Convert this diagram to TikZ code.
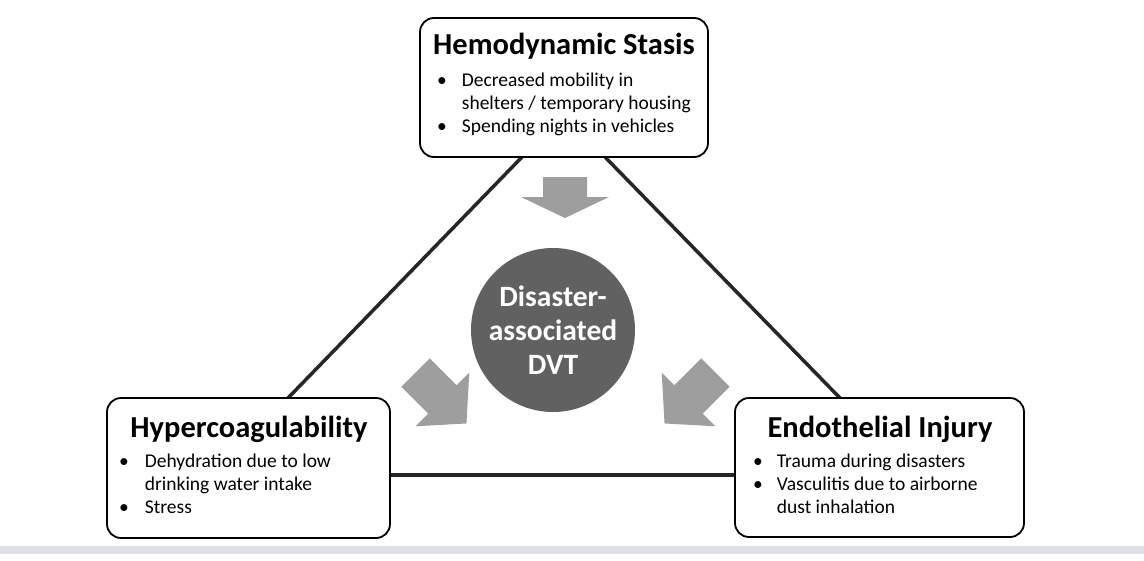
\documentclass[tikz,border=0pt]{standalone}
\usepackage{fontspec}
\setmainfont{Carlito}
\begin{document}
\begin{tikzpicture}[x=1pt,y=-1pt,
 box/.style={draw,line width=1.8pt,rounded corners=14pt,fill=white},
 ttl/.style={font=\bfseries\fontsize{30.5}{32}\selectfont},
 bl/.style={anchor=north west,inner sep=0,font=\fontsize{19.5}{23}\selectfont,align=left},
 edge/.style={line width=3.5pt,black!85}]
\useasboundingbox (0,0) rectangle (1144,560);
\fill[white] (0,0) rectangle (1144,560);
\fill[blue!20!black!12] (0,546) rectangle (1144,554);
\coordinate (t1) at (522,157); \coordinate (t2) at (605,157);
\coordinate (l1) at (288,398); \coordinate (r1) at (840,398);
\coordinate (b1) at (390,475); \coordinate (b2) at (735,475);
\draw[edge] (t1) -- (l1); \draw[edge] (t2) -- (r1); \draw[edge] (b1) -- (b2);
\draw[box] (420,18) rectangle (708,157);
\draw[box] (107,398) rectangle (390,538);
\draw[box] (735,398) rectangle (1024,537);
\node[ttl] (th) at (564,46) {Hemodynamic Stasis};
\node[bl] (tb) at (437,70) {\begin{tabular}{@{}l@{\hspace{15pt}}l@{}}\textbullet & Decreased mobility in\\ & shelters / temporary housing\\ \textbullet & Spending nights in vehicles\end{tabular}};
\node[ttl] (lh) at (249,429) {Hypercoagulability};
\node[bl] (lb) at (119,451) {\begin{tabular}{@{}l@{\hspace{16pt}}l@{}}\textbullet & Dehydration due to low\\ & drinking water intake\\ \textbullet & Stress\end{tabular}};
\node[ttl] (rh) at (880,429) {Endothelial Injury};
\node[bl] (rb) at (753,451) {\begin{tabular}{@{}l@{\hspace{14pt}}l@{}}\textbullet & Trauma during disasters\\ \textbullet & Vasculitis due to airborne\\ & dust inhalation\end{tabular}};
\node[circle,fill=black!62,minimum size=164pt,inner sep=0,text=white,align=center,
 font=\bfseries\fontsize{29.5}{34}\selectfont] (c) at (553,330) {Disaster-\\associated\\DVT};
\begin{scope}[shift={(565,197)},rotate=-90]
\fill[black!38] (-20,-22) -- (0,-22) -- (0,-44) -- (21,0) -- (0,44) -- (0,22) -- (-20,22) -- cycle;
\end{scope}
\begin{scope}[shift={(441,398)},rotate=-45]
\fill[black!38] (-36,-20) -- (2,-20) -- (2,-38) -- (36,0) -- (2,38) -- (2,20) -- (-36,20) -- cycle;
\end{scope}
\begin{scope}[shift={(690,398)},rotate=-135]
\fill[black!38] (-36,-20) -- (2,-20) -- (2,-38) -- (36,0) -- (2,38) -- (2,20) -- (-36,20) -- cycle;
\end{scope}
\end{tikzpicture}
\end{document}
